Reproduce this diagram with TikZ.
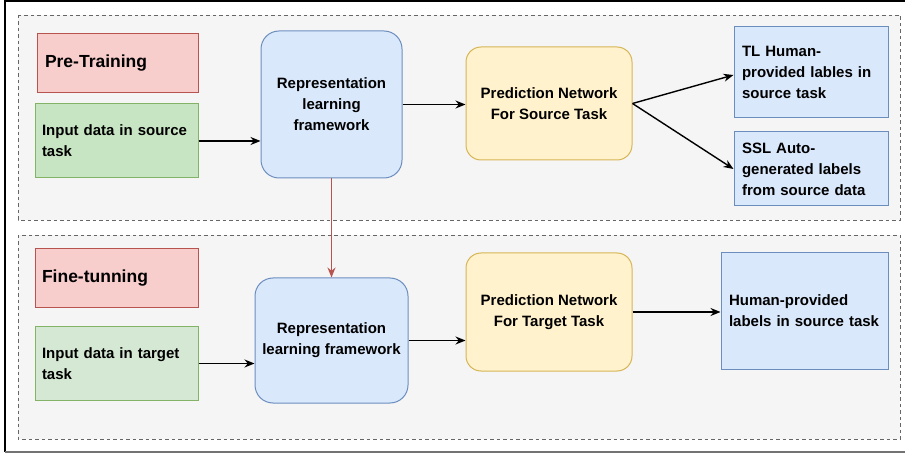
\documentclass[tikz,border=0pt]{standalone}
\usepackage{fontspec}
\setmainfont{Liberation Sans}
\usetikzlibrary{arrows.meta}
\definecolor{grpfill}{HTML}{F5F5F5}
\definecolor{grpdraw}{HTML}{666666}
\definecolor{redfill}{HTML}{F8CECC}
\definecolor{reddraw}{HTML}{B85450}
\definecolor{grnfillA}{HTML}{C7E5C2}
\definecolor{grnfillB}{HTML}{D5E8D4}
\definecolor{grndraw}{HTML}{82B366}
\definecolor{blufill}{HTML}{DAE8FC}
\definecolor{bludraw}{HTML}{6C8EBF}
\definecolor{ylwfill}{HTML}{FFF2CC}
\definecolor{ylwdraw}{HTML}{D6B656}
\tikzset{
  x=1pt, y=-1pt,
  base/.style={draw, line width=1pt, inner sep=0pt, font=\bfseries\fontsize{15}{21}\selectfont},
  grp/.style={fill=grpfill, draw=grpdraw, line width=0.9pt, dash pattern=on 3.5pt off 3pt},
  phase/.style={base, fill=redfill, draw=reddraw, align=left, font=\bfseries\fontsize{17.5}{21}\selectfont},
  inbox/.style={base, draw=grndraw, align=left},
  repbox/.style={base, fill=blufill, draw=bludraw, rounded corners=18pt, align=center},
  predbox/.style={base, fill=ylwfill, draw=ylwdraw, rounded corners=15pt, align=center},
  outbox/.style={base, fill=blufill, draw=bludraw, align=left},
  arr/.style={line width=1.4pt, -{Stealth[length=10pt,width=8pt]}},
  redarr/.style={line width=1.1pt, draw=reddraw, -{Stealth[length=10pt,width=8pt]}, reddraw},
}
\begin{document}
\begin{tikzpicture}
\useasboundingbox (0,0) rectangle (905,454);
\fill[white] (0,0) rectangle (905,454);
% outer frame
\draw[black, line width=1.6pt] (906,1) -- (5,1) -- (5,452);
\draw[black!55, line width=1.4pt] (5,452) -- (906,452);
% groups
\draw[grp] (18,15) rectangle (900,220);
\draw[grp] (18,235) rectangle (900,439);
% top row
\node[phase, text width=145pt, inner xsep=8pt, minimum height=59pt] (pre) at (117.5,63.5) {Pre-Training};
\node[inbox, fill=grnfillA, text width=149pt, inner xsep=7pt, minimum height=74pt] (insrc) at (116.5,141) {Input data in source\\task};
\node[repbox, minimum width=141pt, minimum height=147pt] (reptop) at (331.5,104.5) {Representation\\learning\\framework};
\node[predbox, minimum width=166pt, minimum height=113pt] (predtop) at (549,103.5) {Prediction Network\\For Source Task};
\node[outbox, text width=138pt, inner xsep=8pt, minimum height=91pt] (tl) at (811,72.5) {TL Human-\\provided lables in\\source task};
\node[outbox, text width=138pt, inner xsep=8pt, minimum height=74pt] (ssl) at (811,169) {SSL Auto-\\generated labels\\from source data};
% bottom row
\node[phase, text width=149pt, inner xsep=7pt, minimum height=59pt] (fine) at (116.5,278.5) {Fine-tunning};
\node[inbox, fill=grnfillB, text width=149pt, inner xsep=7pt, minimum height=73pt] (intgt) at (116.5,363.5) {Input data in target\\task};
\node[repbox, minimum width=153pt, minimum height=125pt] (repbot) at (331.5,340.5) {Representation\\learning framework};
\node[predbox, minimum width=166pt, minimum height=118pt] (predbot) at (549,312) {Prediction Network\\For Target Task};
\node[outbox, text width=151pt, inner xsep=8pt, minimum height=116pt] (human) at (804.5,311) {Human-provided\\labels in source task};
% connectors
\draw[arr] (insrc.east) -- (insrc.east -| reptop.west);
\draw[arr] (reptop.east) -- (reptop.east -| predtop.west);
\draw[arr] (predtop.east) -- ([yshift=-2.5pt]tl.west);
\draw[arr] (predtop.east) -- (ssl.west);
\draw[redarr] (reptop.south) -- (repbot.north);
\draw[arr] (intgt.east) -- (intgt.east -| repbot.west);
\draw[arr] (repbot.east) -- (repbot.east -| predbot.west);
\draw[arr] (predbot.east) -- (predbot.east -| human.west);
\end{tikzpicture}
\end{document}
